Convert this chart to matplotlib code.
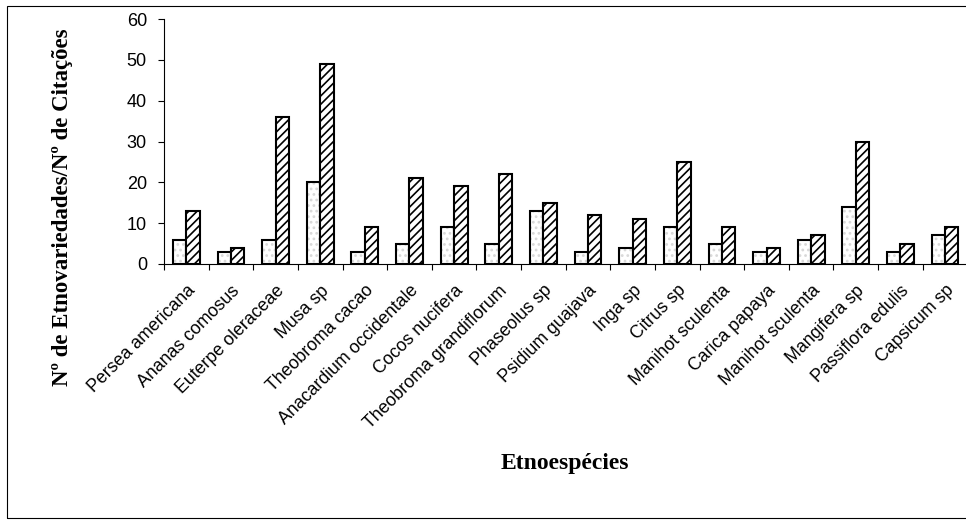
import numpy as np
import matplotlib
matplotlib.use("Agg")
import matplotlib.pyplot as plt
from matplotlib.patches import Rectangle

# dados
especies = ['Persea americana', 'Ananas comosus', 'Euterpe oleraceae', 'Musa sp',
            'Theobroma cacao', 'Anacardium occidentale', 'Cocos nucifera',
            'Theobroma grandiflorum', 'Phaseolus sp', 'Psidium guajava', 'Inga sp',
            'Citrus sp', 'Manihot sculenta', 'Carica papaya', 'Manihot sculenta',
            'Mangifera sp', 'Passiflora edulis', 'Capsicum sp']
etnovariedades = [6, 3, 6, 20, 3, 5, 9, 5, 13, 3, 4, 9, 5, 3, 6, 14, 3, 7]
citacoes = [13, 4, 36, 49, 9, 21, 19, 22, 15, 12, 11, 25, 9, 4, 7, 30, 5, 9]

plt.rcParams['font.family'] = 'Liberation Sans'
plt.rcParams['hatch.linewidth'] = 1.2

fig = plt.figure(figsize=(9.66, 5.2), dpi=100)
ax = fig.add_axes([164/966, 1 - 264/520, 803.4/966, 245/520])

x = np.arange(len(especies))
w = 0.3

# barras brancas com pontilhado leve
ax.bar(x - w/2, etnovariedades, w, color='white', edgecolor='#d8d8d8', hatch='...', lw=0)
ax.bar(x - w/2, etnovariedades, w, color='none', edgecolor='black', lw=1.5)
# barras hachuradas
ax.bar(x + w/2, citacoes, w, color='white', edgecolor='black', hatch='////', lw=1.5)

ax.set_xlim(-0.5, len(especies) - 0.5)
ax.set_ylim(0, 60)
ax.set_yticks(range(0, 61, 10))
ax.tick_params(axis='y', direction='out', length=4.3, width=0.8, labelsize=13, pad=8)

ax.set_xticks(x)
ax.set_xticklabels(especies, rotation=45, ha='right', rotation_mode='anchor', fontsize=12.8)
ax.set_xticks(np.arange(-0.5, len(especies), 1.0), minor=True)
ax.tick_params(axis='x', which='major', length=0, pad=13)
ax.tick_params(axis='x', which='minor', direction='out', length=4.5, width=0.8)

for s in ['top', 'right']:
    ax.spines[s].set_visible(False)
for s in ['left', 'bottom']:
    ax.spines[s].set_linewidth(0.8)

fig.text(565/966, 1 - 463/520, 'Etnoespécies', ha='center', va='center',
         family='Liberation Serif', weight='bold', fontsize=17)
fig.text(63/966, 1 - 207/520, 'Nº de Etnovariedades/Nº de Citações', rotation=90,
         ha='center', va='center', family='Liberation Serif', weight='bold', fontsize=16.5)

# moldura da figura
fig.add_artist(Rectangle((7/966, 2/520), 1.0, 512/520, transform=fig.transFigure,
                         fill=False, edgecolor='black', lw=0.8))

fig.savefig('out.png', dpi=100)
